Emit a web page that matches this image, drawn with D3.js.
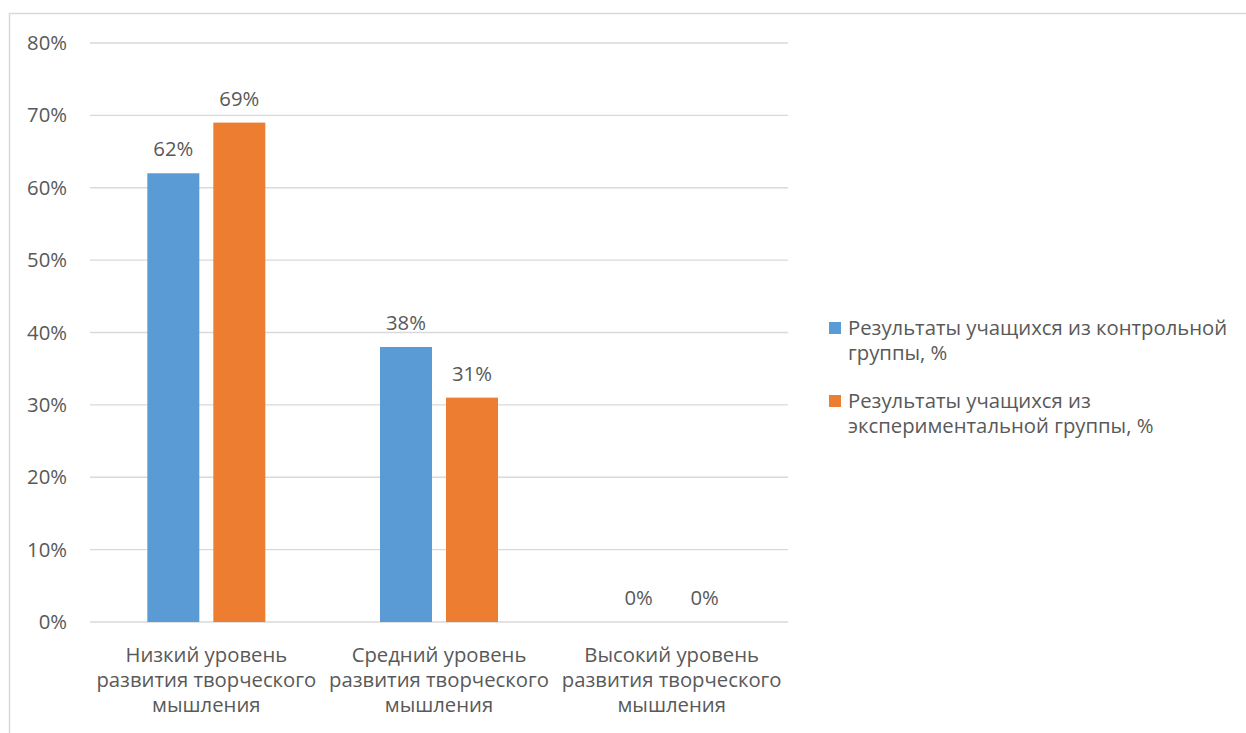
<!DOCTYPE html>
<html><head><meta charset="utf-8">
<script src="https://cdn.jsdelivr.net/npm/d3@7"></script>
<style>body{margin:0;background:#fff;} text{font-family:"Open Sans","Noto Sans",sans-serif;fill:#595959;}</style>
</head><body>
<svg id="c" width="1246" height="733"></svg>
<script>
const categories = [
  ["Низкий уровень","развития творческого","мышления"],
  ["Средний уровень","развития творческого","мышления"],
  ["Высокий уровень","развития творческого","мышления"]
];
const seriesNames = [
  ["Результаты учащихся из контрольной","группы, %"],
  ["Результаты учащихся из","экспериментальной группы, %"]
];
const controlValues = [0.62, 0.38, 0];
const experimentalValues = [0.69, 0.31, 0];
const yTicks = [0,0.1,0.2,0.3,0.4,0.5,0.6,0.7,0.8];
const colors = ["#5b9bd5","#ed7d31"];
const FS = 20.3;

const svg = d3.select("#c");
svg.append("rect").attr("x",9.5).attr("y",13.5).attr("width",1250).attr("height",740)
  .attr("fill","none").attr("stroke","#d9d9d9").attr("stroke-width",1.5);

const x0 = d3.scaleBand().domain(d3.range(3)).range([90,788]).paddingInner(0).paddingOuter(0);
const y = d3.scaleLinear().domain([0,0.8]).range([622,43]);
const series = [controlValues, experimentalValues];
const barW = 52, gap = 14;

const g = svg.append("g");
g.selectAll("line.grid").data(yTicks).enter().append("line")
  .attr("x1",90).attr("x2",788).attr("y1",d=>y(d)).attr("y2",d=>y(d))
  .attr("stroke","#d9d9d9").attr("stroke-width",1.3);
g.selectAll("text.yl").data(yTicks).enter().append("text")
  .attr("x",67).attr("y",d=>y(d)+7).attr("text-anchor","end")
  .attr("font-size",FS).text(d=>d3.format(".0%")(d));

series.forEach((vals,si)=>{
  vals.forEach((v,ci)=>{
    const cx = x0(ci)+x0.bandwidth()/2;
    const bx = si===0 ? cx-gap/2-barW : cx+gap/2;
    if(v>0) g.append("rect").attr("x",bx).attr("y",y(v)).attr("width",barW).attr("height",y(0)-y(v)).attr("fill",colors[si]);
    g.append("text").attr("x",bx+barW/2).attr("y",y(v)-17).attr("text-anchor","middle")
      .attr("font-size",FS).text(d3.format(".0%")(v));
  });
});

categories.forEach((lines,ci)=>{
  const cx = x0(ci)+x0.bandwidth()/2;
  const t = g.append("text").attr("text-anchor","middle").attr("font-size",FS);
  lines.forEach((l,i)=>t.append("tspan").attr("x",cx).attr("y",662+i*25).text(l));
});

const legY = [328, 401];
seriesNames.forEach((lines,si)=>{
  g.append("rect").attr("x",829).attr("y",legY[si]-6).attr("width",12).attr("height",12).attr("fill",colors[si]);
  const t = g.append("text").attr("font-size",FS);
  lines.forEach((l,i)=>t.append("tspan").attr("x",848).attr("y",legY[si]+7+i*25).text(l));
});
</script>
</body></html>
